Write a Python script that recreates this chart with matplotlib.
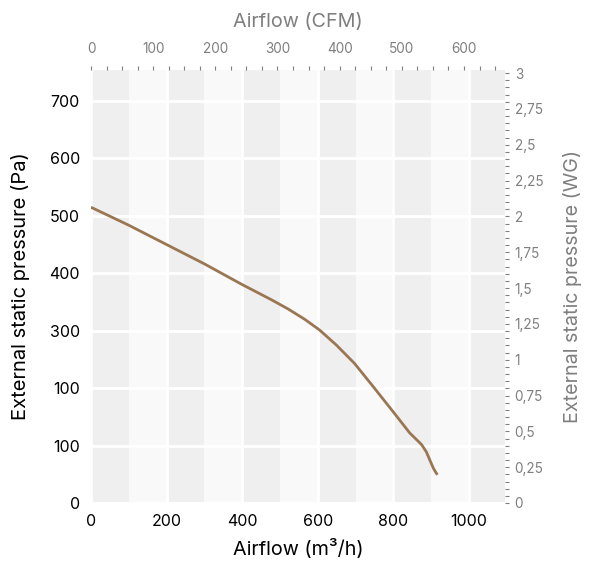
import numpy as np
import matplotlib.pyplot as plt
from matplotlib.ticker import MultipleLocator, FixedLocator, FuncFormatter

plt.rcParams["font.family"] = ["Inter", "DejaVu Sans"]

# fan curve
airflow_m3h = [0, 99, 200, 301, 398, 477, 521, 565, 605, 649, 697, 746, 799,
               843, 874, 887, 896, 906, 916]
pressure_pa = [515, 484, 450, 416, 381, 354, 338, 320, 301, 275, 243, 203, 159,
               122, 102, 89, 75, 60, 49]

left_ticks = [0, 100, 200, 300, 400, 500, 600, 700]
left_labels = ["0", "100", "100", "300", "400", "500", "600", "700"]
bottom_ticks = [0, 200, 400, 600, 800, 1000]
top_ticks = [0, 100, 200, 300, 400, 500, 600]

line_color = "#9b7653"
grey = "#7f7f7f"
band_dark, band_light = "#efefef", "#f9f9f9"

fig = plt.figure(figsize=(5.98, 5.65), dpi=100)
ax = fig.add_axes([91 / 598, 62 / 565, 414 / 598, 433 / 565])

x_max, y_max = 1095, 754
ax.set_xlim(0, x_max)
ax.set_ylim(0, y_max)

# alternating vertical bands every 100 m3/h
for i, x0 in enumerate(np.arange(0, x_max, 100)):
    ax.axvspan(x0, min(x0 + 100, x_max), color=band_dark if i % 2 == 0 else band_light,
               lw=0, zorder=0)

ax.set_xticks(bottom_ticks)
ax.yaxis.set_major_locator(FixedLocator(left_ticks))
ax.set_yticklabels(left_labels)
ax.grid(True, color="white", lw=2, zorder=1)
ax.set_axisbelow(False)
for s in ax.spines.values():
    s.set_visible(False)
ax.tick_params(length=0, labelsize=11.5, colors="black", pad=8)

ax.plot(airflow_m3h, pressure_pa, color=line_color, lw=2, zorder=3,
        solid_capstyle="butt", solid_joinstyle="round")

ax.set_xlabel("Airflow (m³/h)", fontsize=14.2, labelpad=7)
ax.set_ylabel("External static pressure (Pa)", fontsize=14.5, labelpad=14)

# right axis: inches water gauge
ax_r = ax.twinx()
ax_r.set_ylim(0, 3.021)
ax_r.yaxis.set_major_locator(MultipleLocator(0.25))
ax_r.yaxis.set_minor_locator(MultipleLocator(0.05))
ax_r.yaxis.set_major_formatter(FuncFormatter(lambda v, p: f"{v:g}".replace(".", ",")))
ax_r.tick_params(axis="y", which="both", length=3, width=0.8, color=grey,
                 labelcolor=grey, labelsize=9.8, pad=4)
ax_r.set_ylabel("External static pressure (WG)", fontsize=14.2, color=grey, labelpad=14)

# top axis: CFM
ax_t = ax.twiny()
ax_t.set_xlim(0, 666)
ax_t.xaxis.set_major_locator(FixedLocator(top_ticks))
ax_t.xaxis.set_minor_locator(MultipleLocator(25))
ax_t.tick_params(axis="x", which="both", length=3, width=0.8, color=grey,
                 labelcolor=grey, labelsize=9.8, pad=7)
ax_t.set_xlabel("Airflow (CFM)", fontsize=14.2, color=grey, labelpad=11)

for a in (ax_r, ax_t):
    for s in a.spines.values():
        s.set_visible(False)

fig.savefig("out.png", dpi=100)
